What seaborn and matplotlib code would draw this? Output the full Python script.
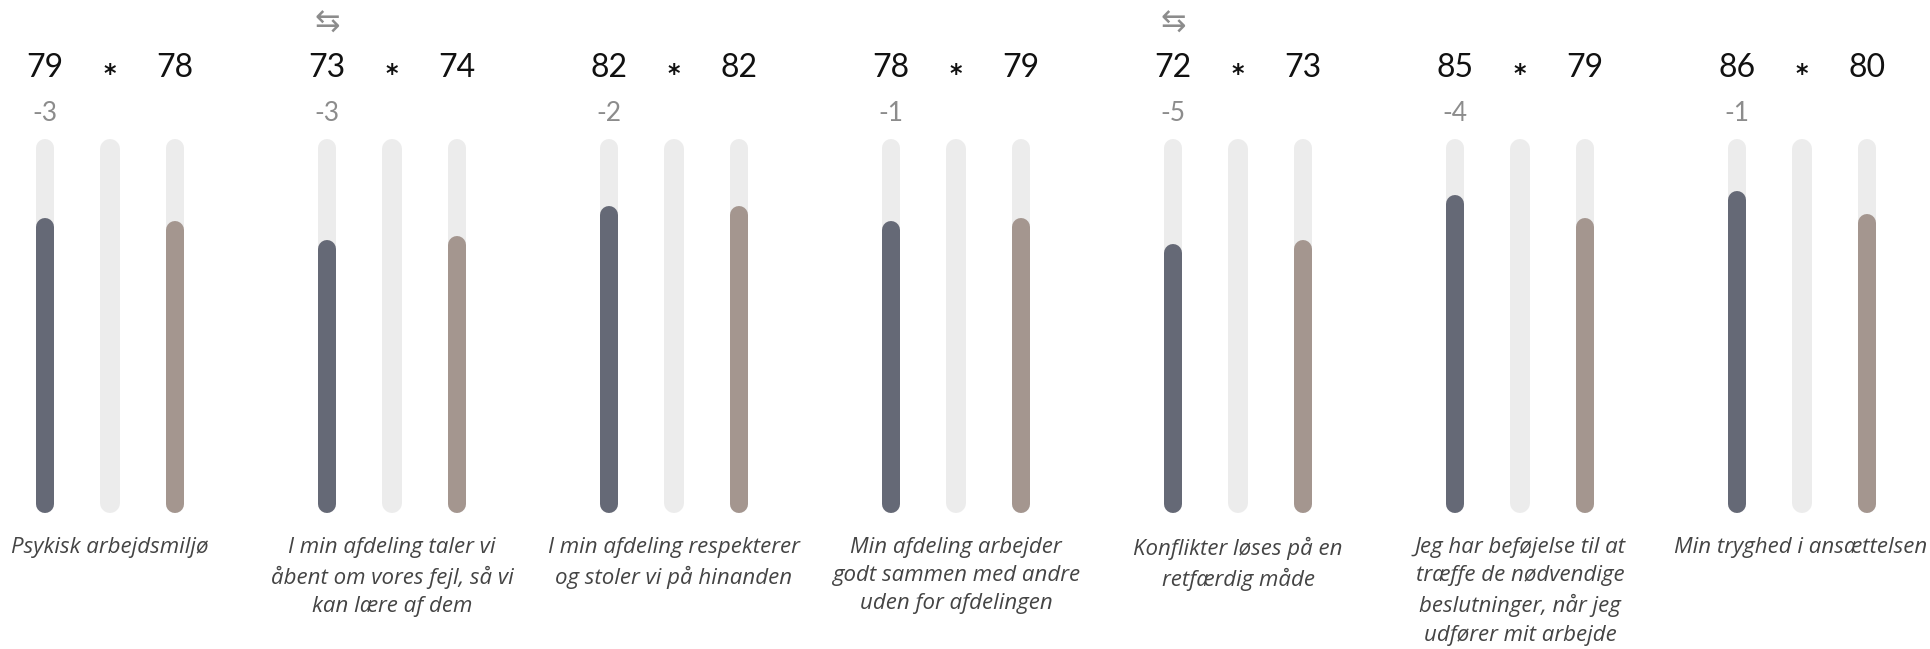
import matplotlib
matplotlib.use("Agg")
import matplotlib.pyplot as plt
import seaborn as sns
import pandas as pd
import numpy as np

# data
labels = [
    "Psykisk arbejdsmiljø",
    "I min afdeling taler vi\nåbent om vores fejl, så vi\nkan lære af dem",
    "I min afdeling respekterer\nog stoler vi på hinanden",
    "Min afdeling arbejder\ngodt sammen med andre\nuden for afdelingen",
    "Konflikter løses på en\nretfærdig måde",
    "Jeg har beføjelse til at\ntræffe de nødvendige\nbeslutninger, når jeg\nudfører mit arbejde",
    "Min tryghed i ansættelsen",
]
current = [79, 73, 82, 78, 72, 85, 86]
benchmark = [78, 74, 82, 79, 73, 79, 80]
change = [-3, -3, -2, -1, -5, -4, -1]
swapped = [False, True, False, False, True, False, False]

series = ["current", "mid", "benchmark"]
colors = {"current": "#626879", "mid": "#ececec", "benchmark": "#a7958c"}
track_color = "#ececec"

sns.set_theme(style="white")
plt.rcParams["font.family"] = ["Lato", "DejaVu Sans"]

W, H, DPI = 1931, 649, 100
fig = plt.figure(figsize=(W / DPI, H / DPI), dpi=DPI)
ax = fig.add_axes([0, 0, 1, 1])

cats = [f"q{i}" for i in range(len(labels))]
track_df = pd.DataFrame({
    "cat": np.repeat(cats, 3),
    "series": series * len(cats),
    "value": 100,
})
value_df = pd.DataFrame({
    "cat": cats * 2,
    "series": ["current"] * len(cats) + ["benchmark"] * len(cats),
    "value": current + benchmark,
})

bw = 0.6915
sns.barplot(data=track_df, x="cat", y="value", hue="series", hue_order=series,
            palette=[track_color] * 3, width=bw, legend=False, ax=ax)
n_track = len(ax.patches)
sns.barplot(data=value_df, x="cat", y="value", hue="series", hue_order=series,
            palette=colors, width=bw, legend=False, ax=ax)

# pixel geometry of the reference
px_per_unit_y = 3.74
ymin = -(H - 513) / px_per_unit_y
ymax = 100 + 139 / px_per_unit_y
ax.set_xlim(-110 / 282, (W - 110) / 282)
ax.set_ylim(ymin, ymax)
ax.axis("off")

# replace rectangles with rounded bars
for i, p in enumerate(ax.patches):
    h = p.get_height()
    p.set_visible(False)
    if not np.isfinite(h) or h <= 0:
        continue
    xc = p.get_x() + p.get_width() / 2
    is_mid = abs((xc + 0.5) % 1 - 0.5) < 0.05
    wpx = 20 if is_mid else 18
    r = (wpx / 2) / px_per_unit_y
    ax.plot([xc, xc], [r, h - r], color=p.get_facecolor(), lw=wpx * 72 / DPI,
            solid_capstyle="round", zorder=2 if i < n_track else 3)

off = bw / 3
for i in range(len(labels)):
    ax.text(i - off, 118.9, f"{current[i]}", ha="center", va="center",
            fontsize=23, color="#111111")
    ax.text(i + off, 118.9, f"{benchmark[i]}", ha="center", va="center",
            fontsize=23, color="#111111")
    ax.text(i, 117.3, "*", ha="center", va="center", fontsize=17,
            fontweight="bold", color="#111111", family="DejaVu Sans")
    ax.text(i - off, 106.8, f"{change[i]}", ha="center", va="center",
            fontsize=19, color="#8c8c8c")
    if swapped[i]:
        ax.text(i - off, 131.0, "⇆", ha="center", va="center", fontsize=22,
                color="#8c8c8c", family="DejaVu Sans")
    ax.text(i, -6.3, labels[i], ha="center", va="top", fontsize=16,
            style="italic", color="#444444", linespacing=1.46,
            family=["Open Sans", "DejaVu Sans"])

# keep last label inside the canvas
fig.canvas.draw()
renderer = fig.canvas.get_renderer()
for t in ax.texts:
    bb = t.get_window_extent(renderer)
    if bb.x1 > W - 4:
        shift = (bb.x1 - (W - 4)) / 282
        x, y = t.get_position()
        t.set_position((x - shift, y))

fig.savefig("out.png", dpi=DPI, facecolor="white")
